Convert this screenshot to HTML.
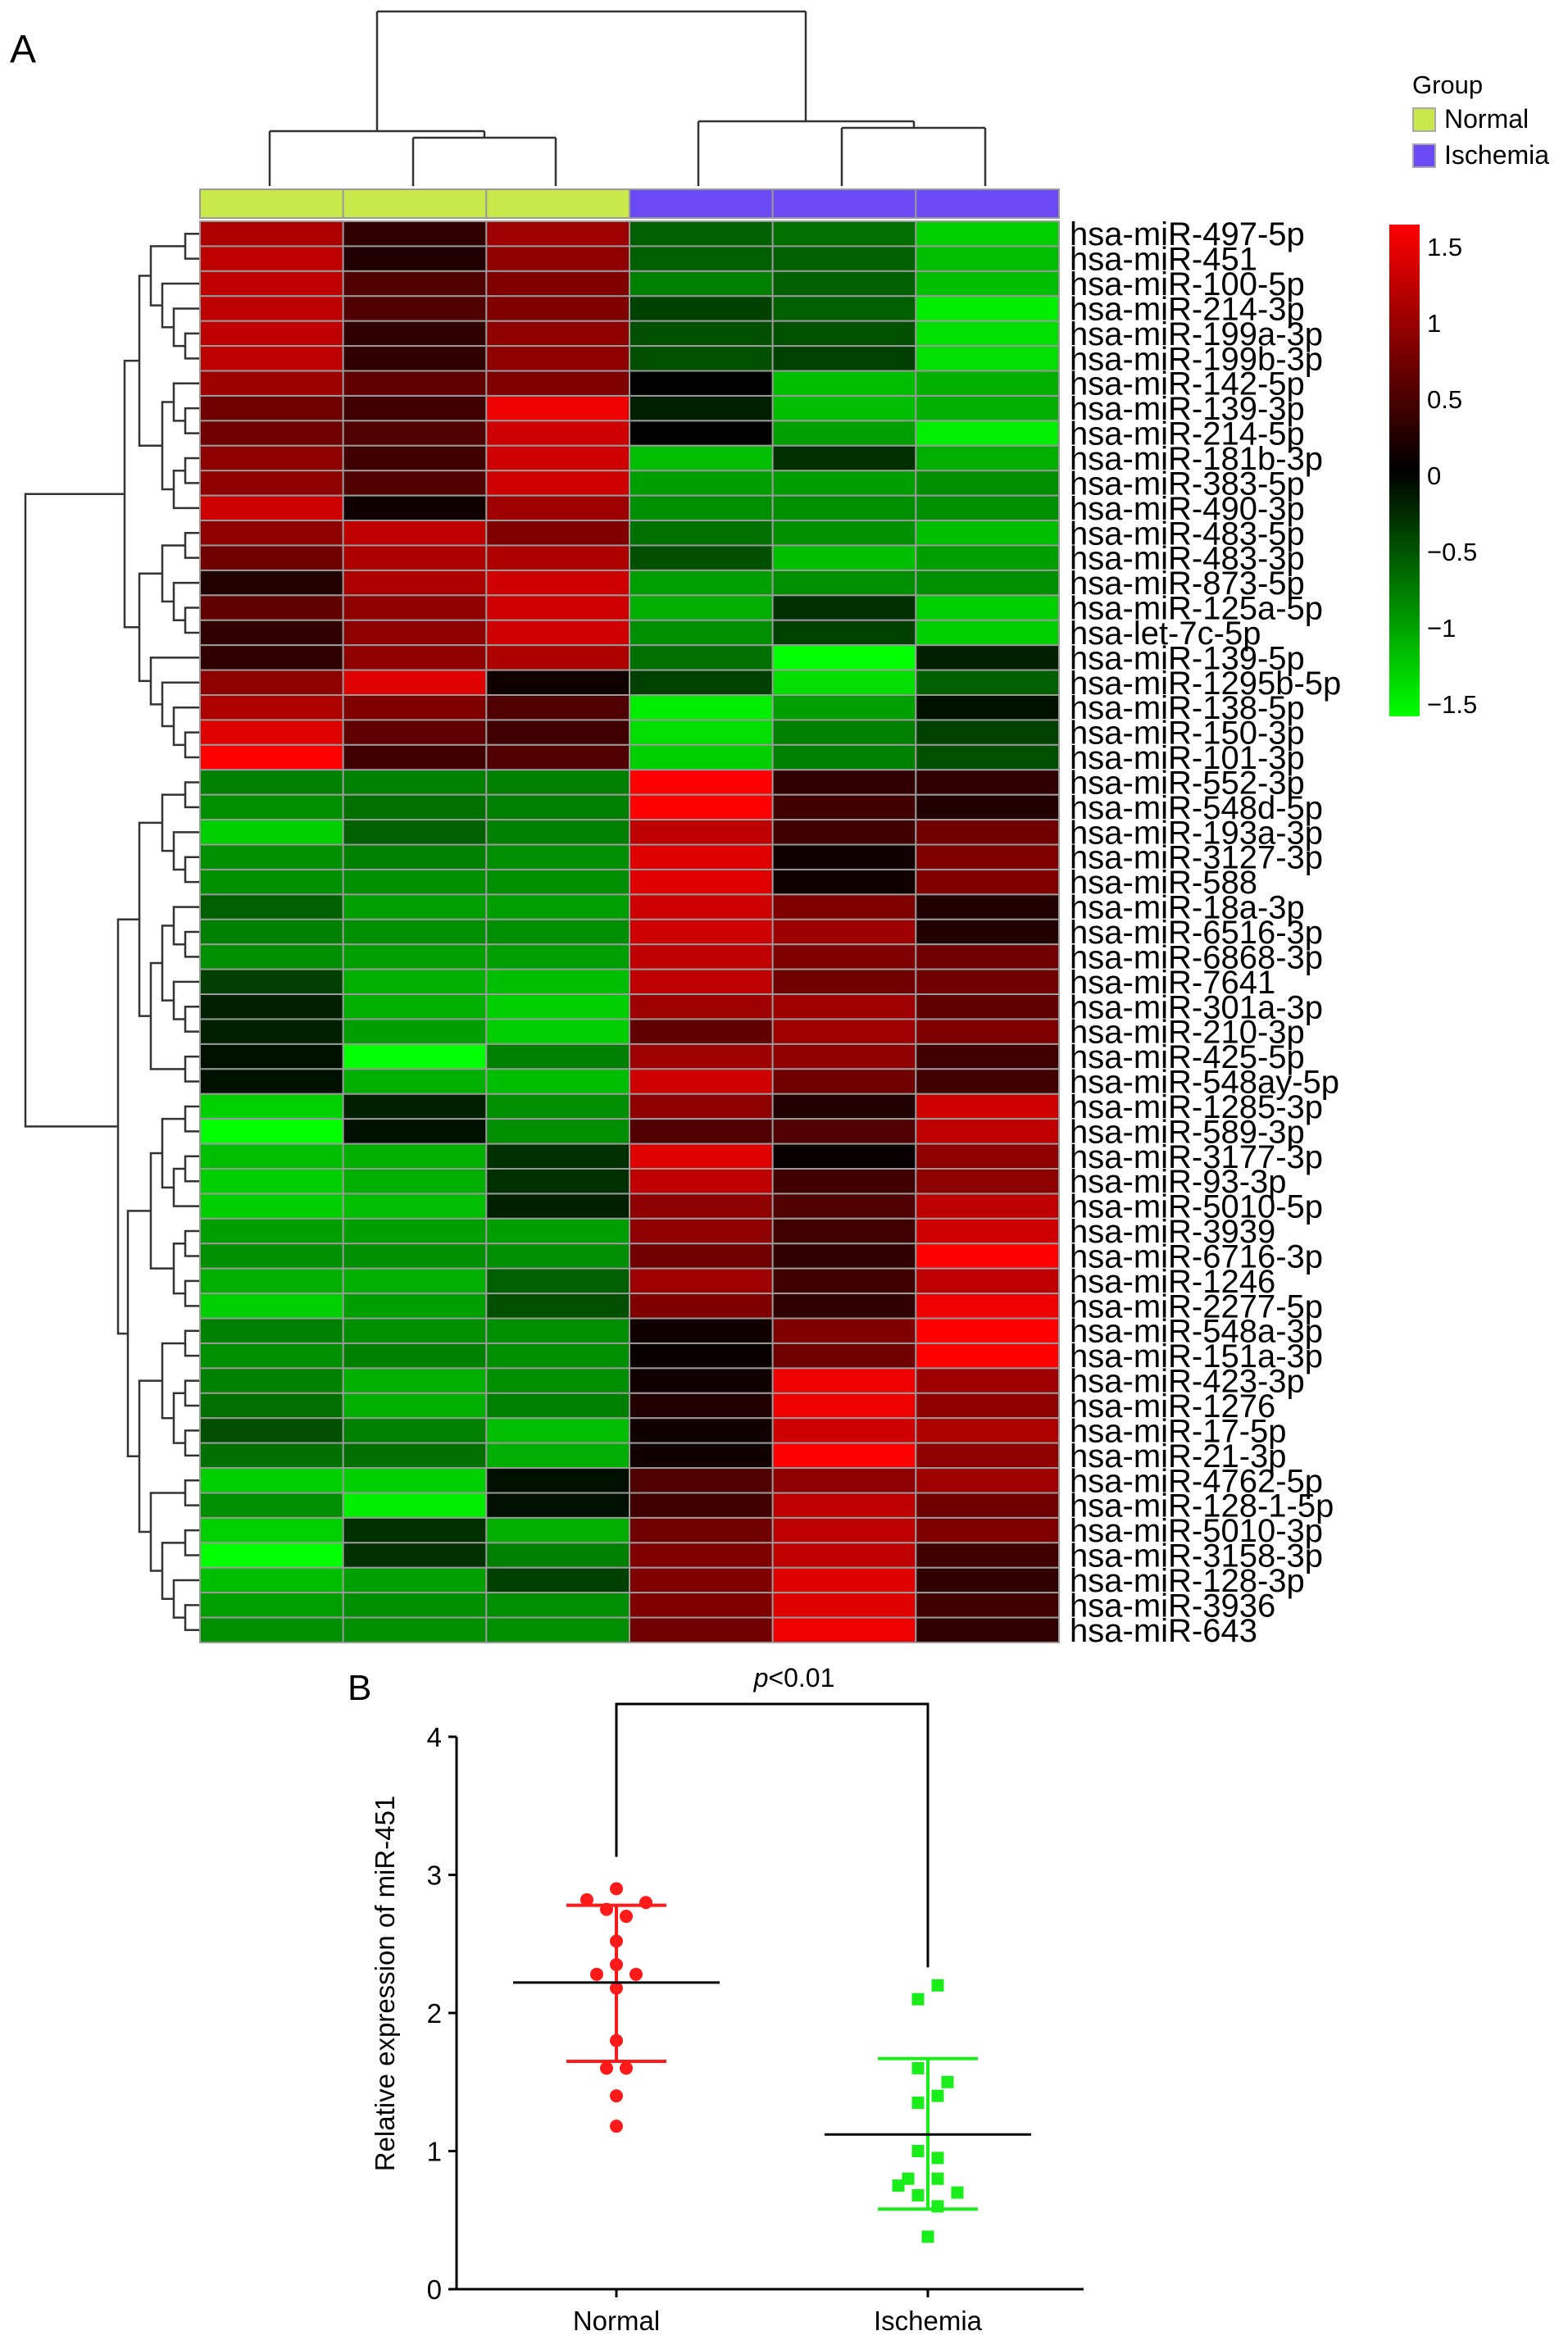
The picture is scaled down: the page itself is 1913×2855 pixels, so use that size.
<!DOCTYPE html>
<html><head><meta charset="utf-8"><style>
html,body{margin:0;padding:0;background:#fff;}
svg{display:block;font-family:"Liberation Sans",sans-serif;}
</style></head><body>
<svg id="fig" width="1913" height="2855" viewBox="0 0 1913 2855">
<text x="12" y="76" font-size="48">A</text>
<g id="coldend" fill="none" stroke="#333" stroke-width="2.5">
<path d="M460,14H983M460,14V160M983,14V148"/>
<path d="M329,160H591M329,160V227M591,160V168M504,168H678M504,168V227M678,168V227"/>
<path d="M852,148H1115M852,148V227M1115,148V156M1027,156H1202M1027,156V227M1202,156V227"/>
</g>
<g id="annot"></g>
<g id="rowdend" fill="none" stroke="#333" stroke-width="2.5"></g>
<g id="heat"></g>
<g id="rowlabels" font-size="40"></g>
<g>
<text x="1723" y="114" font-size="31">Group</text>
<rect x="1724" y="132" width="27" height="28" fill="#c9e84a" stroke="#aaa" stroke-width="2"/>
<text x="1762" y="156" font-size="32">Normal</text>
<rect x="1724" y="176" width="27" height="28" fill="#6b49f5" stroke="#aaa" stroke-width="2"/>
<text x="1762" y="200" font-size="32">Ischemia</text>
</g>
<defs><linearGradient id="cbg" x1="0" y1="0" x2="0" y2="1">
<stop offset="0" stop-color="#ff0000"/><stop offset="0.5" stop-color="#000000"/><stop offset="1" stop-color="#00ff00"/></linearGradient></defs>
<rect x="1695" y="274" width="37" height="600" fill="url(#cbg)"/>
<g id="cbticks" font-size="31"></g>
<g id="panelB"></g>
</svg>
<script>
const NS="http://www.w3.org/2000/svg";
const rowNames=["hsa-miR-497-5p","hsa-miR-451","hsa-miR-100-5p","hsa-miR-214-3p","hsa-miR-199a-3p","hsa-miR-199b-3p","hsa-miR-142-5p","hsa-miR-139-3p","hsa-miR-214-5p","hsa-miR-181b-3p","hsa-miR-383-5p","hsa-miR-490-3p","hsa-miR-483-5p","hsa-miR-483-3p","hsa-miR-873-5p","hsa-miR-125a-5p","hsa-let-7c-5p","hsa-miR-139-5p","hsa-miR-1295b-5p","hsa-miR-138-5p","hsa-miR-150-3p","hsa-miR-101-3p","hsa-miR-552-3p","hsa-miR-548d-5p","hsa-miR-193a-3p","hsa-miR-3127-3p","hsa-miR-588","hsa-miR-18a-3p","hsa-miR-6516-3p","hsa-miR-6868-3p","hsa-miR-7641","hsa-miR-301a-3p","hsa-miR-210-3p","hsa-miR-425-5p","hsa-miR-548ay-5p","hsa-miR-1285-3p","hsa-miR-589-3p","hsa-miR-3177-3p","hsa-miR-93-3p","hsa-miR-5010-5p","hsa-miR-3939","hsa-miR-6716-3p","hsa-miR-1246","hsa-miR-2277-5p","hsa-miR-548a-3p","hsa-miR-151a-3p","hsa-miR-423-3p","hsa-miR-1276","hsa-miR-17-5p","hsa-miR-21-3p","hsa-miR-4762-5p","hsa-miR-128-1-5p","hsa-miR-5010-3p","hsa-miR-3158-3p","hsa-miR-128-3p","hsa-miR-3936","hsa-miR-643"];
const sampleGroups=["Normal","Normal","Normal","Ischemia","Ischemia","Ischemia"];
const heatValues=[
[1.1,0.3,1.0,-0.6,-0.7,-1.3],[1.2,0.2,0.9,-0.6,-0.6,-1.2],[1.2,0.5,0.8,-0.8,-0.6,-1.2],[1.2,0.5,0.8,-0.4,-0.6,-1.5],[1.2,0.3,0.9,-0.5,-0.5,-1.4],[1.2,0.3,0.9,-0.5,-0.4,-1.4],
[1.0,0.6,0.8,0.0,-1.2,-1.1],[0.7,0.4,1.5,-0.2,-1.2,-1.1],[0.7,0.5,1.3,0.0,-1.0,-1.5],[0.9,0.4,1.3,-1.2,-0.3,-1.1],[0.9,0.5,1.3,-1.0,-1.0,-0.9],[1.3,0.1,1.0,-0.9,-0.9,-0.9],
[0.9,1.2,0.8,-0.7,-0.9,-1.2],[0.7,1.1,1.1,-0.5,-1.2,-1.0],[0.2,1.1,1.3,-1.0,-0.9,-0.9],[0.6,0.9,1.3,-1.1,-0.3,-1.3],[0.3,0.9,1.3,-0.9,-0.4,-1.3],[0.3,0.9,1.1,-0.7,-1.6,-0.2],
[0.9,1.4,0.1,-0.4,-1.4,-0.6],[1.1,0.8,0.5,-1.5,-1.0,-0.1],[1.4,0.6,0.4,-1.4,-0.8,-0.4],[1.6,0.4,0.5,-1.3,-0.8,-0.5],
[-0.8,-0.8,-0.8,1.6,0.3,0.3],[-0.9,-0.7,-0.8,1.6,0.4,0.2],[-1.3,-0.6,-0.8,1.2,0.4,0.7],[-0.9,-0.8,-0.9,1.4,0.1,0.8],[-0.9,-0.9,-0.9,1.4,0.1,0.8],[-0.6,-1.0,-1.0,1.3,0.8,0.2],
[-0.8,-0.9,-0.9,1.3,1.0,0.2],[-0.9,-1.0,-1.0,1.2,0.8,0.7],[-0.4,-1.1,-1.2,1.2,0.7,0.7],[-0.2,-1.1,-1.3,1.0,1.0,0.6],[-0.2,-1.0,-1.3,0.6,1.0,0.8],[-0.1,-1.6,-0.8,1.0,0.9,0.4],
[-0.1,-1.1,-1.2,1.3,0.7,0.4],[-1.3,-0.2,-0.9,0.9,0.2,1.3],[-1.6,-0.1,-0.9,0.5,0.5,1.2],[-1.2,-1.1,-0.3,1.4,0.05,0.9],[-1.3,-1.1,-0.3,1.2,0.4,0.9],[-1.3,-1.2,-0.2,0.9,0.5,1.2],
[-1.0,-1.0,-1.0,0.9,0.4,1.3],[-0.9,-0.9,-0.9,0.7,0.3,1.6],[-1.1,-1.1,-0.6,1.0,0.4,1.2],[-1.3,-1.0,-0.5,0.8,0.3,1.5],[-0.8,-0.9,-0.9,0.1,0.8,1.6],[-0.9,-0.8,-0.9,0.05,0.7,1.6],
[-0.8,-1.1,-0.9,0.1,1.5,1.0],[-0.7,-1.1,-0.8,0.2,1.5,0.9],[-0.5,-0.8,-1.2,0.1,1.3,1.1],[-0.7,-0.7,-1.1,0.1,1.6,0.9],[-1.3,-1.3,-0.1,0.5,0.9,1.0],[-0.9,-1.5,-0.1,0.4,1.2,0.7],
[-1.3,-0.3,-1.1,0.7,1.2,0.8],[-1.6,-0.3,-0.8,0.8,1.2,0.4],[-1.2,-1.0,-0.4,0.8,1.4,0.3],[-1.0,-0.9,-0.9,0.8,1.4,0.4],[-0.9,-0.9,-0.9,0.7,1.5,0.3]];
const colorTicks=[1.5,1,0.5,0,-0.5,-1,-1.5];
const rowTree=[[[[[0,1],[2,[3,[4,5]]]],[[6,[7,8]],[[9,10],11]]],[[[12,13],[14,[15,16]]],[17,[18,[19,[20,21]]]]]],
[[[[22,23],[24,[25,26]]],[[[27,[28,29]],[30,[31,32]]],[33,34]]],[[[[35,36],[[37,38],39]],[[40,41],[42,43]]],[[[44,45],[[46,47],[48,49]]],[[50,51],[[52,53],[54,[55,56]]]]]]]];
// panel B data
const normalVals=[2.9,2.82,2.8,2.75,2.7,2.52,2.35,2.28,2.28,2.18,1.8,1.6,1.6,1.4,1.18];
const normalJit=[0,-36,36,-12,12,0,0,-24,24,0,0,-12,12,0,0];
const ischVals=[2.2,2.1,1.6,1.5,1.4,1.35,1.0,0.95,0.8,0.8,0.75,0.7,0.68,0.6,0.38];
const ischJit=[12,-12,-12,24,12,-12,-12,12,-24,12,-36,36,-12,12,0];
const normalStats=[2.22,2.78,1.65];
const ischStats=[1.12,1.67,0.58];
const yTicks=[0,1,2,3,4];
const catNames=["Normal","Ischemia"];

function mk(tag,attrs,parent){const e=document.createElementNS(NS,tag);for(const k in attrs)e.setAttribute(k,attrs[k]);parent.appendChild(e);return e;}
const HX0=244,HX1=1292,HY0=270,HY1=2004;
const nR=rowNames.length,nC=sampleGroups.length;
const cw=(HX1-HX0)/nC,rh=(HY1-HY0)/nR;
const vmax=1.6;
function col(v){const t=Math.min(1,Math.abs(v)/vmax);const c=Math.round(255*t);return v>=0?`rgb(${c},0,0)`:`rgb(0,${c},0)`;}
const heat=document.getElementById('heat');
heatValues.forEach((row,i)=>row.forEach((v,j)=>{
  const r=mk('rect',{x:HX0+j*cw,y:HY0+i*rh,width:cw,height:rh,fill:col(v),stroke:'#9a9a9a','stroke-width':2},heat);
  
  
}));
const annot=document.getElementById('annot');
sampleGroups.forEach((g,j)=>{
  const r=mk('rect',{x:HX0+j*cw,y:231,width:cw,height:35,fill:g==="Normal"?"#c9e84a":"#6b49f5",stroke:'#9a9a9a','stroke-width':2},annot);
  
  
});
const rl=document.getElementById('rowlabels');
rowNames.forEach((n,i)=>{
  const t=mk('text',{x:1305,y:HY0+(i+0.5)*rh+14},rl);t.textContent=n;
  
  
});
const rd=document.getElementById('rowdend');
function ht(n){return Array.isArray(n)?1+Math.max(ht(n[0]),ht(n[1])):0;}
function draw(n,depth){
  if(!Array.isArray(n))return {y:HY0+(n+0.5)*rh,x:HX0};
  const a=draw(n[0],depth+1),b=draw(n[1],depth+1);
  let x;
  if(depth===0)x=31;else if(depth===1)x=(n===rowTree[0]?152:144);else x=HX0-14*ht(n)-4;
  mk('path',{d:`M${a.x},${a.y}H${x}V${b.y}H${b.x}`},rd);
  return {x:x,y:(a.y+b.y)/2};
}
draw(rowTree,0);
const cbt=document.getElementById('cbticks');
colorTicks.forEach(v=>{
  const y=580-v*186;
  const t=mk('text',{x:1741,y:y+11},cbt);t.textContent=(v<0?'\u2212':'')+Math.abs(v);
  
  
});
const pb=document.getElementById('panelB');
const AX=557,AXR=1322,Y0=2793,UNIT=168.5;
const ys=v=>Y0-v*UNIT;
const cx=[752,1132];
let t=mk('text',{x:424,y:2074,'font-size':44},pb);t.textContent='B';

mk('path',{d:`M${AX},${ys(4)}V${Y0}H${AXR}`,fill:'none',stroke:'#000','stroke-width':3},pb);
yTicks.forEach(v=>{
  mk('line',{x1:AX-10,x2:AX,y1:ys(v),y2:ys(v),stroke:'#000','stroke-width':3},pb);
  const tt=mk('text',{x:AX-18,y:ys(v)+12,'font-size':33,'text-anchor':'end'},pb);tt.textContent=v;
  
});
catNames.forEach((c,i)=>{
  mk('line',{x1:cx[i],x2:cx[i],y1:Y0,y2:Y0+10,stroke:'#000','stroke-width':3},pb);
  const tt=mk('text',{x:cx[i],y:2843,'font-size':33,'text-anchor':'middle'},pb);tt.textContent=c;
  
});
t=mk('text',{x:0,y:0,'font-size':33,'text-anchor':'middle',transform:'translate(481,2420) rotate(-90)'},pb);
t.textContent='Relative expression of  miR-451';

mk('path',{d:`M${cx[0]},${ys(3.13)}V2079H${cx[1]}V${ys(2.33)}`,fill:'none',stroke:'#000','stroke-width':3},pb);
t=mk('text',{x:969,y:2058,'font-size':32,'text-anchor':'middle'},pb);
t.innerHTML='<tspan font-style="italic">p</tspan>&lt;0.01';

function stats(s,x,c){
  mk('line',{x1:x,x2:x,y1:ys(s[1]),y2:ys(s[2]),stroke:c,'stroke-width':4},pb);
  [s[1],s[2]].forEach(v=>mk('line',{x1:x-61,x2:x+61,y1:ys(v),y2:ys(v),stroke:c,'stroke-width':4},pb));
}
stats(normalStats,cx[0],'#ff1a1a');stats(ischStats,cx[1],'#1aee1a');
normalVals.forEach((v,i)=>{
  const c=mk('circle',{cx:cx[0]+normalJit[i],cy:ys(v),r:8,fill:'#ff1a1a'},pb);
  
});
ischVals.forEach((v,i)=>{
  const r=mk('rect',{x:cx[1]+ischJit[i]-7.5,y:ys(v)-7.5,width:15,height:15,fill:'#1aee1a'},pb);
  
});
[[normalStats,0],[ischStats,1]].forEach(([s,i])=>{
  const l=mk('line',{x1:cx[i]-126,x2:cx[i]+126,y1:ys(s[0]),y2:ys(s[0]),stroke:'#000','stroke-width':3},pb);
  
});
</script>
</body></html>
